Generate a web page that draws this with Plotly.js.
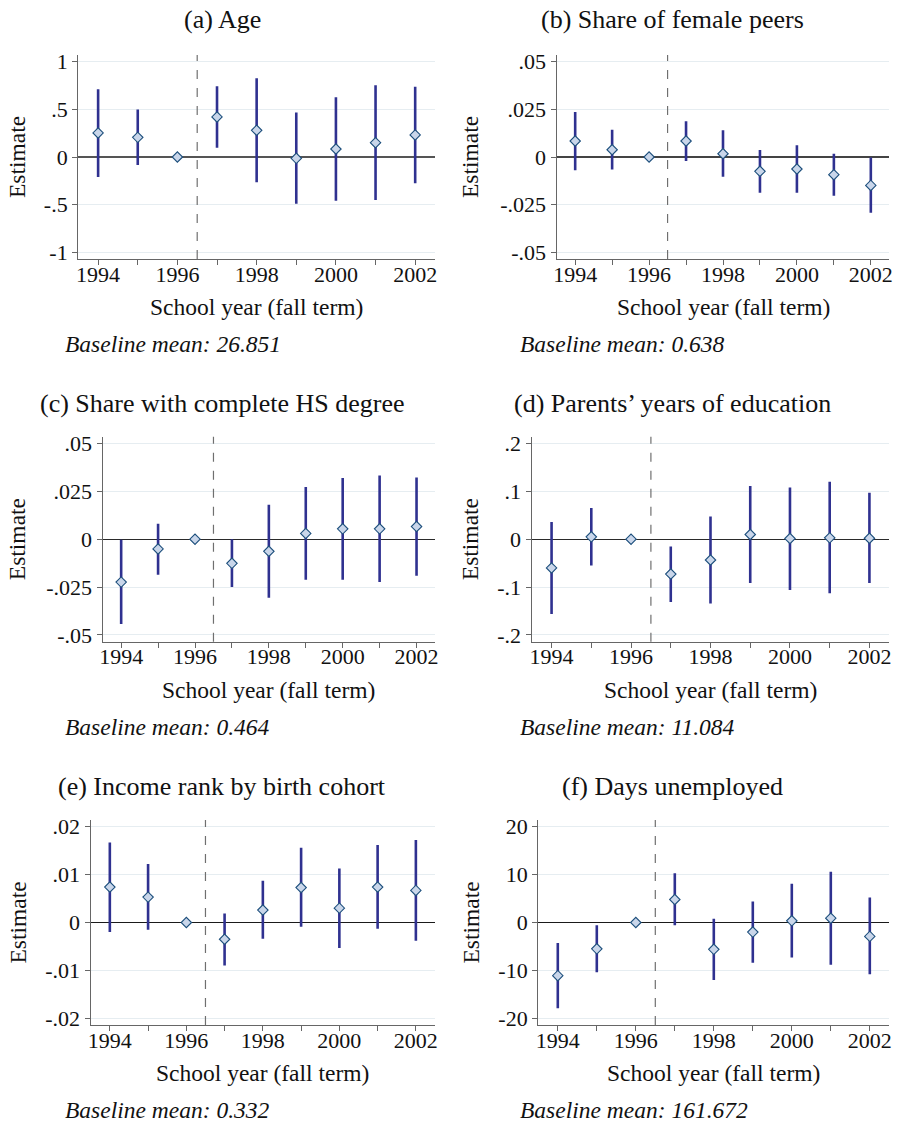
<!DOCTYPE html>
<html>
<head>
<meta charset="utf-8">
<script src="https://cdn.plot.ly/plotly-3.0.1.min.js"></script>
<style>
  html, body { margin: 0; padding: 0; background: #ffffff; }
  #chart { width: 900px; height: 1123px; }
</style>
</head>
<body>
<div id="chart"></div>
<script>
// School years (fall term); 1996 is the reference year
const years = [1994, 1995, 1996, 1997, 1998, 1999, 2000, 2001, 2002];
const yearTickText = ['1994', '', '1996', '', '1998', '', '2000', '', '2002'];

// (a) Age
const ageEst = [0.252, 0.206, 0, 0.42, 0.28, -0.014, 0.084, 0.15, 0.231];
const ageLo  = [-0.21, -0.084, 0, 0.098, -0.266, -0.49, -0.458, -0.451, -0.276];
const ageHi  = [0.71, 0.497, 0, 0.741, 0.825, 0.468, 0.626, 0.752, 0.738];
const ageTicks = [-1, -0.5, 0, 0.5, 1];
const ageTickText = ['-1', '-.5', '0', '.5', '1'];

// (b) Share of female peers
const femEst = [0.0084, 0.0038, 0, 0.0084, 0.0017, -0.0075, -0.0063, -0.0093, -0.0149];
const femLo  = [-0.007, -0.0066, 0, -0.0021, -0.0103, -0.0187, -0.0187, -0.0203, -0.0292];
const femHi  = [0.0236, 0.0143, 0, 0.0187, 0.014, 0.0037, 0.0061, 0.0017, -0.0003];
const femTicks = [-0.05, -0.025, 0, 0.025, 0.05];
const femTickText = ['-.05', '-.025', '0', '.025', '.05'];

// (c) Share with complete HS degree
const hsEst = [-0.0224, -0.0051, 0, -0.0126, -0.0063, 0.003, 0.0054, 0.0054, 0.0066];
const hsLo  = [-0.0442, -0.0185, 0, -0.025, -0.0306, -0.0212, -0.0212, -0.0224, -0.0191];
const hsHi  = [-0.0003, 0.008, 0, 0.0, 0.018, 0.0273, 0.032, 0.0332, 0.0322];
const hsTicks = [-0.05, -0.025, 0, 0.025, 0.05];
const hsTickText = ['-.05', '-.025', '0', '.025', '.05'];

// (d) Parents' years of education
const eduEst = [-0.060, 0.0049, 0, -0.0727, -0.0434, 0.0098, 0.0014, 0.0028, 0.002];
const eduLo  = [-0.156, -0.055, 0, -0.131, -0.134, -0.0916, -0.106, -0.113, -0.0916];
const eduHi  = [0.0357, 0.065, 0, -0.0154, 0.0476, 0.111, 0.108, 0.12, 0.097];
const eduTicks = [-0.2, -0.1, 0, 0.1, 0.2];
const eduTickText = ['-.2', '-.1', '0', '.1', '.2'];

// (e) Income rank by birth cohort
const incEst = [0.0074, 0.0053, 0, -0.0035, 0.0026, 0.0073, 0.003, 0.0074, 0.0067];
const incLo  = [-0.002, -0.0015, 0, -0.009, -0.0034, -0.0009, -0.0053, -0.0013, -0.0038];
const incHi  = [0.0167, 0.0122, 0, 0.0019, 0.0087, 0.0156, 0.0113, 0.0162, 0.0172];
const incTicks = [-0.02, -0.01, 0, 0.01, 0.02];
const incTickText = ['-.02', '-.01', '0', '.01', '.02'];

// (f) Days unemployed
const unEst = [-11.1, -5.5, 0, 4.8, -5.6, -2.0, 0.35, 0.9, -2.9];
const unLo  = [-17.9, -10.4, 0, -0.6, -12.0, -8.4, -7.3, -8.8, -10.8];
const unHi  = [-4.3, -0.6, 0, 10.3, 0.8, 4.4, 8.1, 10.6, 5.2];
const unTicks = [-20, -10, 0, 10, 20];
const unTickText = ['-20', '-10', '0', '10', '20'];

const panelTitles = [
  '(a) Age',
  '(b) Share of female peers',
  '(c) Share with complete HS degree',
  '(d) Parents\u2019 years of education',
  '(e) Income rank by birth cohort',
  '(f) Days unemployed'
];
const baselineMeans = ['26.851', '0.638', '0.464', '11.084', '0.332', '161.672'];
const xAxisTitle = 'School year (fall term)';
const yAxisTitle = 'Estimate';
const cutoffYear = 1996.5;

// ---- page geometry (pixels) ----
const W = 900, H = 1123;
const FONT = "Liberation Serif, Times New Roman, serif";
const px = v => v / W;
const py = v => 1 - v / H;

// plot boxes: left, right, top, bottom
const boxes = [
  [78.3, 435, 55, 259],
  [556.7, 889.3, 55, 259],
  [102.7, 435, 436.7, 641.7],
  [531.7, 889.3, 436.7, 641.7],
  [90.7, 435, 820, 1025],
  [538.3, 889.3, 820, 1025]
];
const titleCenters = [222, 672, 222, 672, 222, 672];
const titleRows = [20, 20, 403, 403, 786, 786];
const colTextLeft = [63, 518, 63, 518, 63, 518];
const colYTitle = [17, 470, 17, 470, 17, 470];
const zeroColors = ['#555555', '#444444', '#2a2a2a', '#2a2a2a', '#1a1a1a', '#1a1a1a'];

const panels = [
  {est: ageEst, lo: ageLo, hi: ageHi, ticks: ageTicks, text: ageTickText},
  {est: femEst, lo: femLo, hi: femHi, ticks: femTicks, text: femTickText},
  {est: hsEst,  lo: hsLo,  hi: hsHi,  ticks: hsTicks,  text: hsTickText},
  {est: eduEst, lo: eduLo, hi: eduHi, ticks: eduTicks, text: eduTickText},
  {est: incEst, lo: incLo, hi: incHi, ticks: incTicks, text: incTickText},
  {est: unEst,  lo: unLo,  hi: unHi,  ticks: unTicks,  text: unTickText}
];

const NAVY = '#2f3190';
const traces = [];
const layout = {
  width: W, height: H,
  margin: {l: 0, r: 0, t: 0, b: 0},
  paper_bgcolor: '#ffffff',
  plot_bgcolor: '#ffffff',
  showlegend: false,
  font: {family: FONT, size: 22, color: '#111111'},
  annotations: [],
  shapes: []
};

panels.forEach((p, i) => {
  const n = i + 1;
  const xa = n === 1 ? 'x' : 'x' + n;
  const ya = n === 1 ? 'y' : 'y' + n;
  const [l, r, t, b] = boxes[i];
  const top = Math.max(...p.ticks) * 1.07;

  traces.push({
    type: 'scatter', mode: 'markers',
    x: years, y: p.est,
    xaxis: xa, yaxis: ya,
    marker: {symbol: 'diamond', size: 8, color: '#c9d6ea',
             line: {color: '#1d4f7c', width: 1.1}},
    error_y: {
      type: 'data', symmetric: false,
      array: p.hi.map((h, k) => h - p.est[k]),
      arrayminus: p.lo.map((v, k) => p.est[k] - v),
      color: NAVY, thickness: 2.6, width: 0
    },
    hoverinfo: 'skip'
  });

  layout['xaxis' + (n === 1 ? '' : n)] = {
    domain: [px(l), px(r)],
    anchor: ya,
    range: [1993.5, 2002.5],
    tickmode: 'array', tickvals: years, ticktext: yearTickText,
    ticks: 'outside', ticklen: 5, tickwidth: 1, tickcolor: '#666666',
    ticklabelstandoff: -10,
    showline: true, linecolor: '#666666', linewidth: 1.2,
    showgrid: false, zeroline: false,
    tickfont: {family: FONT, size: 22, color: '#111111'},
    fixedrange: true
  };
  layout['yaxis' + (n === 1 ? '' : n)] = {
    domain: [py(b), py(t)],
    anchor: xa,
    range: [-top, top],
    tickmode: 'array', tickvals: p.ticks, ticktext: p.text,
    ticks: 'outside', ticklen: 5, tickwidth: 1, tickcolor: '#666666',
    showline: true, linecolor: '#666666', linewidth: 1.2,
    showgrid: true, gridcolor: '#e6edf1', gridwidth: 1,
    zeroline: true, zerolinecolor: zeroColors[i], zerolinewidth: 1.2,
    tickfont: {family: FONT, size: 22, color: '#111111'},
    fixedrange: true
  };

  // vertical dashed line between the reference year and the first treated year
  layout.shapes.push({
    type: 'line', xref: xa, yref: ya + ' domain',
    x0: cutoffYear, x1: cutoffYear, y0: 0, y1: 1,
    line: {color: '#6f6f6f', width: 1.2, dash: 'dash'}
  });

  // panel title
  layout.annotations.push({
    text: panelTitles[i], xref: 'paper', yref: 'paper',
    x: px(titleCenters[i]), y: py(titleRows[i]),
    xanchor: 'center', yanchor: 'middle', showarrow: false,
    font: {family: FONT, size: 26, color: '#111111'}
  });
  // x-axis title
  layout.annotations.push({
    text: xAxisTitle, xref: 'paper', yref: 'paper',
    x: px((l + r) / 2), y: py(b + 48),
    xanchor: 'center', yanchor: 'middle', showarrow: false,
    font: {family: FONT, size: 23.5, color: '#111111'}
  });
  // y-axis title
  layout.annotations.push({
    text: yAxisTitle, xref: 'paper', yref: 'paper',
    x: px(colYTitle[i]), y: py((t + b) / 2),
    xanchor: 'center', yanchor: 'middle', showarrow: false, textangle: -90,
    font: {family: FONT, size: 23.5, color: '#111111'}
  });
  // baseline mean note
  layout.annotations.push({
    text: '<i>Baseline mean: ' + baselineMeans[i] + '</i>', xref: 'paper', yref: 'paper',
    x: px(colTextLeft[i]), y: py(b + 85),
    xanchor: 'left', yanchor: 'middle', showarrow: false,
    font: {family: FONT, size: 23.5, color: '#111111'}
  });
});

Plotly.newPlot('chart', traces, layout, {staticPlot: true, displayModeBar: false});
</script>
</body>
</html>
